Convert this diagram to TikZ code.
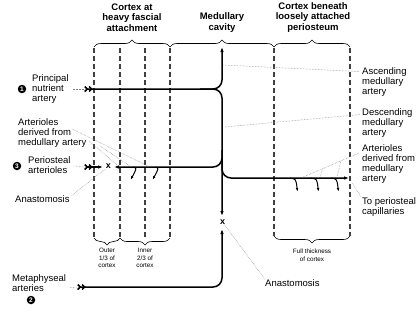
\documentclass[tikz,border=0pt]{standalone}
\usepackage{fontspec}
\setmainfont{Liberation Sans}
\usetikzlibrary{arrows.meta,decorations.pathreplacing}
\begin{document}
\begin{tikzpicture}[x=1pt,y=-1pt,
	artery/.style={line width=1.5pt,rounded corners=9pt},
	tipend/.style={-{Latex[length=5pt,width=3.6pt]}},
	tailtip/.style={{Straight Barb[reversed,length=2.5pt,width=5pt]Straight Barb[reversed,length=2.5pt,width=5pt]}-{Latex[length=5pt,width=3.6pt]}},
	divider/.style={line width=1.2pt,black!75,dash pattern=on 5pt off 3pt},
	brc/.style={decorate,decoration={brace,amplitude=7pt},line width=0.6pt},
	leader/.style={gray,densely dotted,line width=0.5pt},
	twig/.style={line width=1pt,-{Latex[length=4pt,width=2.6pt]}},
	lbl/.style={align=left,inner sep=0pt,font=\fontsize{9.5}{9.8}\selectfont},
	ttl/.style={align=center,inner sep=0pt,font=\fontsize{9.5}{10.5}\selectfont\bfseries},
	tiny/.style={align=center,inner sep=0pt,font=\fontsize{6.3}{7.6}\selectfont},
	numdot/.style={circle,fill=black,text=white,inner sep=0pt,minimum size=8.5pt,font=\fontsize{6.5}{6.5}\selectfont\bfseries},
	xmark/.style={inner sep=0pt,font=\fontsize{9}{9}\selectfont\bfseries}]
	\useasboundingbox (0,0) rectangle (417,332);

	\node[ttl] (ttlA) at (132,17.5) {Cortex at\\heavy fascial\\attachment};
	\node[ttl] (ttlB) at (222,22.5) {Medullary\\cavity};
	\node[ttl] (ttlC) at (313,17.5) {Cortex beneath\\loosely attached\\periosteum};

	\draw[brc] (94,47) -- (170,47);
	\draw[brc] (170,47) -- (274,47);
	\draw[brc] (274,47) -- (350,47);
	\draw[brc,decoration={mirror}] (94,238) -- (120,238);
	\draw[brc,decoration={mirror}] (120,238) -- (170,238);
	\draw[brc,decoration={mirror}] (274,236) -- (350,236);

	\foreach \xx in {94,120,145,170}
		\draw[divider] (\xx,48) -- (\xx,238);
	\foreach \xx in {274,350}
		\draw[divider] (\xx,48) -- (\xx,236);

	\node[tiny] (outerLbl) at (107,258) {Outer\\1/3 of\\cortex};
	\node[tiny] (innerLbl) at (145,258) {Inner\\2/3 of\\cortex};
	\node[tiny] (fullLbl) at (312,255) {Full thickness\\of cortex};

	\coordinate (pnaTail) at (84,89);
	\coordinate (perTail) at (84,167);
	\coordinate (metTail) at (77,287);
	\draw[artery,tailtip] (pnaTail) -| (222,47);
	\draw[artery,tipend] (200,89) -| (222,216);
	\draw[artery,tipend] (222,150) |- (114,167);
	\draw[artery,tipend] (222,160) |- (349,178);
	\draw[artery,tailtip] (perTail) -- (103,167);
	\draw[artery,tailtip] (metTail) -| (222,229);

	\node[xmark] (anaL) at (108.5,166.5) {x};
	\node[xmark] (anaR) at (222.5,222) {x};

	\coordinate (twL1) at (133,167);
	\coordinate (twL2) at (155,167);
	\draw[twig] (twL1) .. controls (137,168) .. (130.5,180);
	\draw[twig] (twL2) .. controls (159,168) .. (152.5,180);
	\coordinate (twR1) at (290,178);
	\coordinate (twR2) at (311,178);
	\coordinate (twR3) at (331,178);
	\draw[twig] (twR1) .. controls (296,179) .. (297.5,192);
	\draw[twig] (twR2) .. controls (317,179) .. (318.5,192);
	\draw[twig] (twR3) .. controls (337,179) .. (338.5,192);

	\node[numdot] (n1) at (22,89) {1};
	\node[lbl,anchor=west] (pnaLbl) at (32,89) {Principal\\nutrient\\artery};
	\node[lbl,anchor=west] (artLLbl) at (18,133) {Arterioles\\derived from\\medullary artery};
	\node[numdot] (n3) at (17,166) {3};
	\node[lbl,anchor=west] (perLbl) at (28,165.5) {Periosteal\\arterioles};
	\node[lbl,anchor=west] (anaLLbl) at (15,199) {Anastomosis};
	\node[lbl,anchor=west] (metLbl) at (12,283) {Metaphyseal\\arteries};
	\node[numdot] (n2) at (31,300) {2};

	\node[lbl,anchor=west] (ascLbl) at (362,82) {Ascending\\medullary\\artery};
	\node[lbl,anchor=west] (descLbl) at (362,123) {Descending\\medullary\\artery};
	\node[lbl,anchor=west] (artRLbl) at (362,164) {Arterioles\\derived from\\medullary\\artery};
	\node[lbl,anchor=west] (capLbl) at (362,207) {To periosteal\\capillaries};
	\node[lbl,anchor=west] (anaRLbl) at (265,283) {Anastomosis};

	\coordinate (ascPt) at (223,65);
	\coordinate (descPt) at (224,127);
	\coordinate (capPt) at (352,183);
	\coordinate (artRA) at (359,153);
	\coordinate (artRB) at (341,160.8);
	\coordinate (artRC) at (323,168.5);
	\coordinate (artLA) at (72,129);
	\coordinate (artLB) at (89,141);
	\coordinate (artLC) at (100,146);
	\draw[leader,shorten <=4pt] (pnaLbl.east) -- (pnaTail);
	\draw[leader,shorten <=4pt] (perLbl.east) -- (perTail);
	\draw[leader,shorten <=4pt] (metLbl.east) ++(0,5) -- (metTail);
	\draw[leader] (anaLLbl.north east) ++(2,0) -- (anaL);
	\draw[leader] (anaRLbl.north west) -- (anaR);
	\draw[leader] (ascLbl.north west) ++(-3,4) -- (ascPt);
	\draw[leader] (descLbl.north west) ++(-2,6) -- (descPt);
	\draw[leader] (capLbl.north west) ++(-1,-1) -- (capPt);
	\draw[leader] (artRA) -- (301,178);
	\draw[leader] (artRB) -- (337,177);
	\draw[leader] (artRC) -- (320,177);
	\draw[leader] (artLA) -- (148,166);
	\draw[leader] (artLB) -- (117,165);
	\draw[leader] (artLC) -- (130,166);
\end{tikzpicture}
\end{document}
